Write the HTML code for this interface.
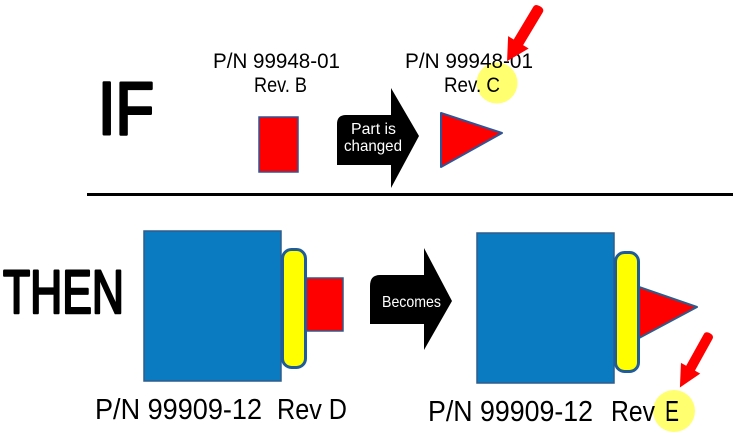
<!DOCTYPE html>
<html>
<head>
<meta charset="utf-8">
<style>
  html, body { margin: 0; padding: 0; background: #ffffff; }
  svg { display: block; }
  text { font-family: "Liberation Sans", "DejaVu Sans", sans-serif; }
</style>
</head>
<body>
<svg width="733" height="433" viewBox="0 0 733 433" xmlns="http://www.w3.org/2000/svg">
  <rect x="0" y="0" width="733" height="433" fill="#ffffff"/>

  <!-- IF -->
  <text x="98" y="134" font-size="74" fill="#000" stroke="#000" stroke-width="3" stroke-linejoin="round" textLength="56" lengthAdjust="spacingAndGlyphs">IF</text>

  <!-- top left label -->
  <text x="213" y="68" font-size="21" fill="#000" textLength="127" lengthAdjust="spacingAndGlyphs">P/N 99948-01</text>
  <text x="254" y="92" font-size="21" fill="#000" textLength="53" lengthAdjust="spacingAndGlyphs">Rev. B</text>

  <!-- red small rect -->
  <rect x="259" y="117" width="39" height="55" fill="#ff0000" stroke="#2f5597" stroke-width="1.5"/>

  <!-- black arrow "Part is changed" -->
  <path d="M 346 115 L 391 115 L 391 88 L 419 136 L 391 188 L 391 165 L 337 165 L 337 124 Q 337 115 346 115 Z" fill="#000"/>
  <text x="351" y="134" font-size="16" fill="#fff" textLength="45" lengthAdjust="spacingAndGlyphs">Part is</text>
  <text x="344" y="151" font-size="16" fill="#fff" textLength="58" lengthAdjust="spacingAndGlyphs">changed</text>

  <!-- red triangle top -->
  <polygon points="441,113 502,133 441,167" fill="#ff0000" stroke="#2f5597" stroke-width="2" stroke-linejoin="round"/>

  <!-- yellow highlight circle top -->
  <circle cx="497" cy="83" r="20.5" fill="#ffff70"/>

  <!-- top right label -->
  <text x="405" y="68" font-size="21" fill="#000" textLength="128" lengthAdjust="spacingAndGlyphs">P/N 99948-01</text>
  <text x="444" y="92" font-size="21" fill="#000" textLength="56" lengthAdjust="spacingAndGlyphs">Rev. C</text>

  <!-- red pointer arrow top -->
  <g transform="translate(539,8) rotate(121)">
    <path d="M 2 -5.5 L 40 -5.5 L 40 -12 L 62 0 L 40 12 L 40 5.5 L 2 5.5 Q -2 5.5 -2 0 Q -2 -5.5 2 -5.5 Z" fill="#ff0000"/>
  </g>

  <!-- divider line -->
  <rect x="87" y="193" width="646" height="3" fill="#000"/>

  <!-- THEN -->
  <text x="3" y="313" font-size="61" fill="#000" stroke="#000" stroke-width="2.6" stroke-linejoin="round" textLength="121" lengthAdjust="spacingAndGlyphs">THEN</text>

  <!-- bottom left assembly -->
  <rect x="144" y="231" width="137" height="150" fill="#0b7bc1" stroke="#2e5c8a" stroke-width="1.5"/>
  <rect x="306" y="278" width="37" height="53" fill="#ff0000" stroke="#2e5c8a" stroke-width="1.5"/>
  <rect x="282.5" y="249.5" width="23" height="118" rx="9" ry="9" fill="#ffff00" stroke="#1f5c99" stroke-width="3"/>

  <text x="95" y="419" font-size="29" fill="#000" textLength="167" lengthAdjust="spacingAndGlyphs">P/N 99909-12</text>
  <text x="277" y="419" font-size="29" fill="#000" textLength="70" lengthAdjust="spacingAndGlyphs">Rev D</text>

  <!-- Becomes arrow -->
  <path d="M 380 275 L 424 275 L 424 248 L 452 301 L 424 350 L 424 324 L 370 324 L 370 286 Q 370 275 380 275 Z" fill="#000"/>
  <text x="382" y="307" font-size="16" fill="#fff" textLength="59" lengthAdjust="spacingAndGlyphs">Becomes</text>

  <!-- bottom right assembly -->
  <rect x="477" y="233" width="137" height="150" fill="#0b7bc1" stroke="#2e5c8a" stroke-width="1.5"/>
  <polygon points="639,287 697,307 639,338" fill="#ff0000" stroke="#2e5c8a" stroke-width="2" stroke-linejoin="round"/>
  <rect x="615.5" y="252.5" width="23" height="119" rx="9" ry="9" fill="#ffff00" stroke="#1f5c99" stroke-width="3"/>

  <!-- yellow highlight circle bottom -->
  <circle cx="674" cy="411" r="21" fill="#ffff70"/>

  <text x="428" y="421" font-size="29" fill="#000" textLength="165" lengthAdjust="spacingAndGlyphs">P/N 99909-12</text>
  <text x="611" y="421" font-size="29" fill="#000" textLength="44" lengthAdjust="spacingAndGlyphs">Rev</text>
  <text x="665" y="421" font-size="29" fill="#000" textLength="14" lengthAdjust="spacingAndGlyphs">E</text>

  <!-- red pointer arrow bottom -->
  <g transform="translate(709,335) rotate(119)">
    <path d="M 2 -5 L 38 -5 L 38 -11 L 60 0 L 38 11 L 38 5 L 2 5 Q -2 5 -2 0 Q -2 -5 2 -5 Z" fill="#ff0000"/>
  </g>
</svg>
</body>
</html>
